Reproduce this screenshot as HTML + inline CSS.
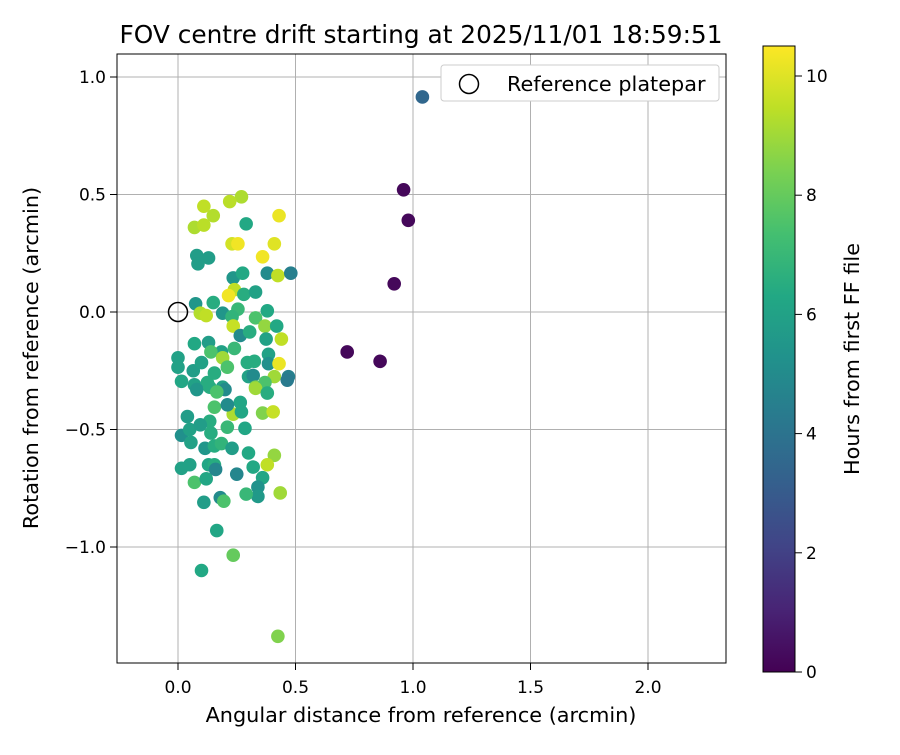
<!DOCTYPE html>
<html><head><meta charset="utf-8"><style>
body{margin:0;background:#fff;}
svg text{font-family:"DejaVu Sans","Liberation Sans",sans-serif;fill:#000;}
</style></head><body>
<svg id="chart" width="900" height="750" xmlns="http://www.w3.org/2000/svg">
<rect width="900" height="750" fill="#fff"/>
<defs><linearGradient id="vir" x1="0" y1="1" x2="0" y2="0">
<stop offset="0" stop-color="#440154"/><stop offset="0.1" stop-color="#482475"/><stop offset="0.2" stop-color="#414487"/><stop offset="0.3" stop-color="#355f8d"/><stop offset="0.4" stop-color="#2a788e"/><stop offset="0.5" stop-color="#21918c"/><stop offset="0.6" stop-color="#22a884"/><stop offset="0.7" stop-color="#44bf70"/><stop offset="0.8" stop-color="#7ad151"/><stop offset="0.9" stop-color="#bddf26"/><stop offset="1" stop-color="#fde725"/>
</linearGradient></defs>
<g id="grid"></g>
<g id="pts"></g>
<rect x="117" y="54" width="609" height="609" fill="none" stroke="#000" stroke-width="1"/>
<g id="ticks"></g>
<text x="421" y="43" font-size="24.8" text-anchor="middle">FOV centre drift starting at 2025/11/01 18:59:51</text>
<text x="421" y="722" font-size="20.8" text-anchor="middle">Angular distance from reference (arcmin)</text>
<text transform="translate(38,358) rotate(-90)" font-size="20.8" text-anchor="middle">Rotation from reference (arcmin)</text>
<g>
<rect x="441" y="65" width="278" height="36" rx="3" fill="#fff" stroke="#ccc"/>
<circle cx="469" cy="84" r="9.5" fill="none" stroke="#000" stroke-width="1.5"/>
<text x="507" y="91" font-size="20.8">Reference platepar</text>
</g>
<rect x="763" y="46" width="32" height="626" fill="url(#vir)" stroke="#000" stroke-width="1"/>
<g id="cticks"></g>
<text transform="translate(859,359) rotate(-90)" font-size="20.8" text-anchor="middle">Hours from first FF file</text>
</svg>
<script>
const xTicks=[0.0,0.5,1.0,1.5,2.0];
const xTickLabels=["0.0","0.5","1.0","1.5","2.0"];
const yTicks=[1.0,0.5,0.0,-0.5,-1.0];
const yTickLabels=["1.0","0.5","0.0","\u22120.5","\u22121.0"];
const cTicks=[0,2,4,6,8,10];
const xs=[1.04,0.96,0.98,0.92,0.72,0.86,0.11,0.15,0.27,0.22,0.07,0.11,0.43,0.29,0.23,0.255,0.41,0.36,0.08,0.13,0.085,0.235,0.275,0.38,0.425,0.48,0.24,0.215,0.28,0.33,0.075,0.15,0.19,0.255,0.23,0.38,0.095,0.12,0.235,0.33,0.37,0.42,0.44,0.375,0.265,0.305,0.07,0.13,0.185,0.24,0.14,0.19,0.21,0.0,0.0,0.015,0.065,0.10,0.155,0.295,0.325,0.385,0.385,0.43,0.3,0.32,0.41,0.47,0.07,0.125,0.19,0.33,0.37,0.08,0.135,0.2,0.165,0.33,0.38,0.465,0.155,0.235,0.265,0.21,0.27,0.36,0.405,0.04,0.135,0.21,0.285,0.015,0.05,0.095,0.14,0.055,0.115,0.155,0.185,0.23,0.3,0.41,0.38,0.32,0.015,0.05,0.13,0.155,0.16,0.25,0.07,0.12,0.36,0.34,0.34,0.29,0.435,0.11,0.18,0.195,0.165,0.235,0.10,0.425];
const ys=[0.915,0.52,0.39,0.12,-0.17,-0.21,0.45,0.41,0.49,0.47,0.36,0.37,0.41,0.375,0.29,0.29,0.29,0.235,0.24,0.23,0.205,0.145,0.165,0.165,0.155,0.165,0.095,0.07,0.075,0.085,0.035,0.04,-0.005,0.012,-0.02,0.005,-0.005,-0.015,-0.06,-0.025,-0.06,-0.06,-0.115,-0.115,-0.1,-0.085,-0.135,-0.13,-0.17,-0.155,-0.17,-0.195,-0.235,-0.195,-0.235,-0.295,-0.25,-0.215,-0.26,-0.215,-0.21,-0.18,-0.22,-0.22,-0.275,-0.27,-0.275,-0.275,-0.31,-0.3,-0.32,-0.32,-0.3,-0.33,-0.32,-0.33,-0.34,-0.325,-0.345,-0.29,-0.405,-0.435,-0.385,-0.395,-0.425,-0.43,-0.425,-0.445,-0.465,-0.49,-0.495,-0.525,-0.5,-0.48,-0.515,-0.555,-0.58,-0.57,-0.56,-0.58,-0.6,-0.61,-0.65,-0.66,-0.665,-0.65,-0.65,-0.65,-0.67,-0.69,-0.725,-0.71,-0.705,-0.745,-0.785,-0.775,-0.77,-0.81,-0.79,-0.805,-0.93,-1.035,-1.10,-1.38];
const hours=[3.5,0.2,0.2,0.2,0.2,0.2,9.5,9.3,9.2,9.4,9.2,9.4,10.2,6.3,9.8,10.3,10,10.3,5.8,5.8,5.8,5.5,6.3,5,9.5,4.5,9.5,10.3,6.5,6,5.5,6.5,5.5,7,6.8,6.3,9.3,9.5,9.6,7.5,8.8,6.3,9.5,6,5,6.5,6.3,5.8,6,7,7.5,9,7.5,6,6,6.2,5.8,6,6.5,6.5,6.5,6,5.2,10.2,6,5,9,4.5,6,6.5,6,8.5,7.5,5.5,6.5,5,7.5,9,6.5,4.3,7.5,9.2,6.2,5,6.2,8.5,9.6,5.8,6.5,7,6.2,5.2,6,5.8,6.5,6,5.5,6.5,6.8,5.8,6.3,8.8,9.5,6.3,6,6,6.2,6.5,4.8,4.8,7.5,6.2,6.2,5.3,5.6,7,9,5.8,5,7.5,6.2,8,6.3,8.5];
const NS="http://www.w3.org/2000/svg";
const X=v=>178+v*235, Y=v=>312-v*235, C=h=>672-h*(596/10);
const stops=["#440154","#482475","#414487","#355f8d","#2a788e","#21918c","#22a884","#44bf70","#7ad151","#bddf26","#fde725"];
function hx(s){return [1,3,5].map(i=>parseInt(s.substr(i,2),16));}
function vir(h){let t=Math.max(0,Math.min(1,h/10.5))*10;let i=Math.min(9,Math.floor(t));let f=t-i;let a=hx(stops[i]),b=hx(stops[i+1]);return "rgb("+a.map((v,k)=>Math.round(v+(b[k]-v)*f)).join(",")+")";}
function mk(tag,at,parent){const e=document.createElementNS(NS,tag);for(const k in at)e.setAttribute(k,at[k]);parent.appendChild(e);return e;}
const grid=document.getElementById('grid'),ticks=document.getElementById('ticks'),pts=document.getElementById('pts'),ct=document.getElementById('cticks');
xTicks.forEach((v,i)=>{
 const g=mk('line',{x1:X(v),x2:X(v),y1:54,y2:663,stroke:'#b0b0b0','stroke-width':1},grid);
 
 
 mk('line',{x1:X(v),x2:X(v),y1:663,y2:670,stroke:'#000'},ticks);
 const t=mk('text',{x:X(v),y:693,'font-size':17,'text-anchor':'middle'},ticks);t.textContent=xTickLabels[i];
 
 
});
yTicks.forEach((v,i)=>{
 const g=mk('line',{x1:117,x2:726,y1:Y(v),y2:Y(v),stroke:'#b0b0b0','stroke-width':1},grid);
 
 
 mk('line',{x1:110,x2:117,y1:Y(v),y2:Y(v),stroke:'#000'},ticks);
 const t=mk('text',{x:106,y:Y(v)+6,'font-size':17,'text-anchor':'end'},ticks);t.textContent=yTickLabels[i];
 
 
});
xs.forEach((x,i)=>{
 const c=mk('circle',{cx:X(x),cy:Y(ys[i]),r:6.8,fill:vir(hours[i])},pts);
 
 
});
const ref=mk('circle',{cx:X(0),cy:Y(0),r:9.5,fill:'none',stroke:'#000','stroke-width':1.5},pts);


cTicks.forEach(v=>{
 mk('line',{x1:795,x2:802,y1:C(v),y2:C(v),stroke:'#000'},ct);
 const t=mk('text',{x:806,y:C(v)+6,'font-size':17},ct);t.textContent=String(v);
 
 
});
</script>
</body></html>
